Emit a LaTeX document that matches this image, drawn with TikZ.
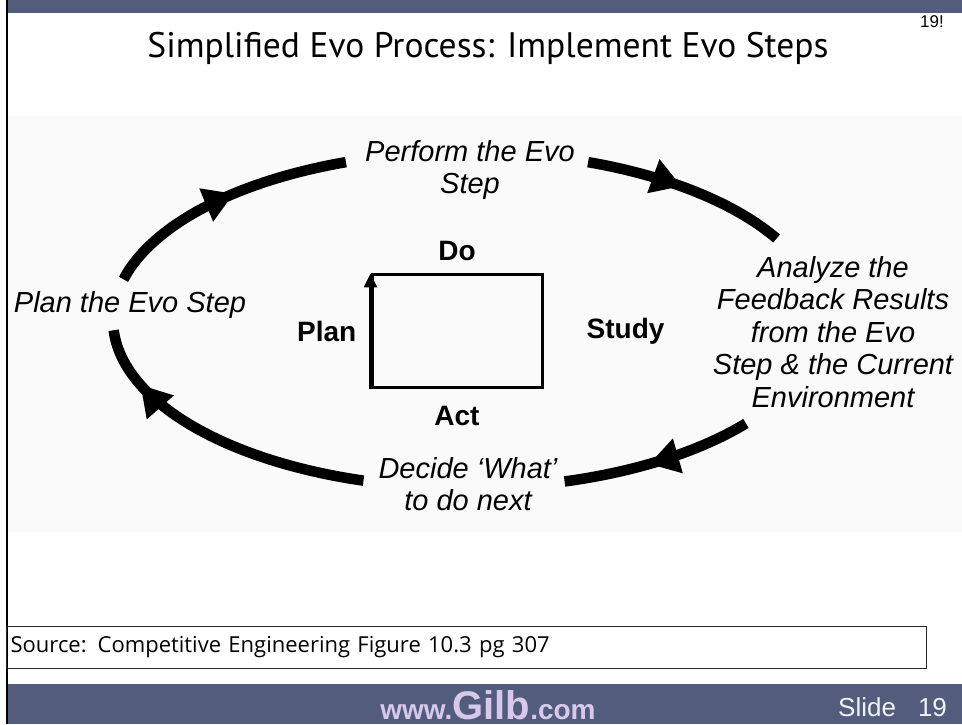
\documentclass[tikz,border=0pt]{standalone}
\usepackage{fontspec}
\setmainfont{Liberation Sans}
\newfontfamily\titlefont{PT Sans}
\newfontfamily\notefont{Open Sans}
\usepackage{tikz}
\usetikzlibrary{arrows.meta,positioning,calc,decorations.markings}
\definecolor{slidebar}{RGB}{82,92,125}
\definecolor{gilbtext}{RGB}{216,200,234}
\definecolor{panel}{RGB}{250,250,250}

\begin{document}
\begin{tikzpicture}[x=1pt,y=1pt,
    loop/.style={line width=10.5pt},
    tipat/.style={postaction={decorate},decoration={markings,
        mark=at position #1 with {\arrow{Triangle[length=30pt,width=34pt]}}}},
    phase/.style={font=\fontsize{29}{32.5}\selectfont\itshape,align=center,inner sep=0pt},
    corner/.style={font=\fontsize{28}{32}\selectfont\bfseries,inner sep=0pt}]

  % slide frame
  \useasboundingbox (0,0) rectangle (962,724);
  \fill[white] (0,0) rectangle (962,724);
  \fill[slidebar] (6,711) rectangle (962,724);
  \fill[panel] (7,192) rectangle (962,608);
  \fill[slidebar] (6,0) rectangle (962,40);
  \draw[line width=2pt] (6.5,0) -- (6.5,724);

  \node[font=\titlefont\fontsize{35.5}{40}\selectfont] (title) at (488,676)
        {Simplified Evo Process: Implement Evo Steps};
  \node[font=\fontsize{17}{19}\selectfont] (pagenum) at (932,702) {19!};

  % the Evo cycle
  \coordinate (hub) at (467,404);
  \draw[loop,tipat=0.55] ($(hub)+(166:354pt and 168pt)$)
        arc[start angle=166,end angle=110,x radius=354pt,y radius=168pt];
  \draw[loop,tipat=0.47] ($(hub)+(70:354pt and 168pt)$)
        arc[start angle=70,end angle=29,x radius=354pt,y radius=168pt];
  \draw[loop,tipat=0.55] ($(hub)+(-38:354pt and 168pt)$)
        arc[start angle=-38,end angle=-74,x radius=354pt,y radius=168pt];
  \draw[loop,tipat=0.8] ($(hub)+(-107:354pt and 168pt)$)
        arc[start angle=-107,end angle=-176.5,x radius=354pt,y radius=168pt];

  \node[phase] (perform) at (470,554) {Perform the Evo\\Step};
  \node[phase] (analyze) at (833,392)
        {Analyze the\\Feedback Results\\from the Evo\\Step \& the Current\\Environment};
  \node[phase] (decide)  at (468,240) {Decide ‘What’\\to do next};
  \node[phase] (planit)  at (130,419) {Plan the Evo Step};

  % PDSA box
  \node[draw,line width=3pt,minimum width=170pt,minimum height=113pt,inner sep=0pt]
        (cycle) at (457,392.5) {};
  \draw[line width=3pt,-{Triangle[length=14pt,width=13pt]}]
        (cycle.south west) -- (cycle.north west);
  \node[corner] (do)    [above=13pt of cycle] {Do};
  \node[corner] (act)   [below=17pt of cycle] {Act};
  \node[corner] (plan)  [left=14pt of cycle]  {Plan};
  \node[corner] (study) [right=43pt of cycle] {Study};

  % source and footer
  \node[draw=black!85,line width=1.2pt,minimum width=920pt,minimum height=42pt,
        inner xsep=4pt,text width=912pt,align=left,anchor=south west,
        font=\notefont\fontsize{22}{25}\selectfont] (source) at (6,55)
        {Source: Competitive Engineering Figure 10.3 pg 307};
  \node[text=gilbtext,font=\bfseries,anchor=base,inner sep=0pt] (site) at (488,4.5)
        {\fontsize{28}{31}\selectfont www.\fontsize{40}{43}\selectfont Gilb\fontsize{28}{31}\selectfont.com};
  \node[text=white!92!slidebar,font=\fontsize{26}{29}\selectfont,anchor=base west,inner sep=0pt]
        (slide) at (838,8) {Slide\hspace{22pt}19};
\end{tikzpicture}
\end{document}
